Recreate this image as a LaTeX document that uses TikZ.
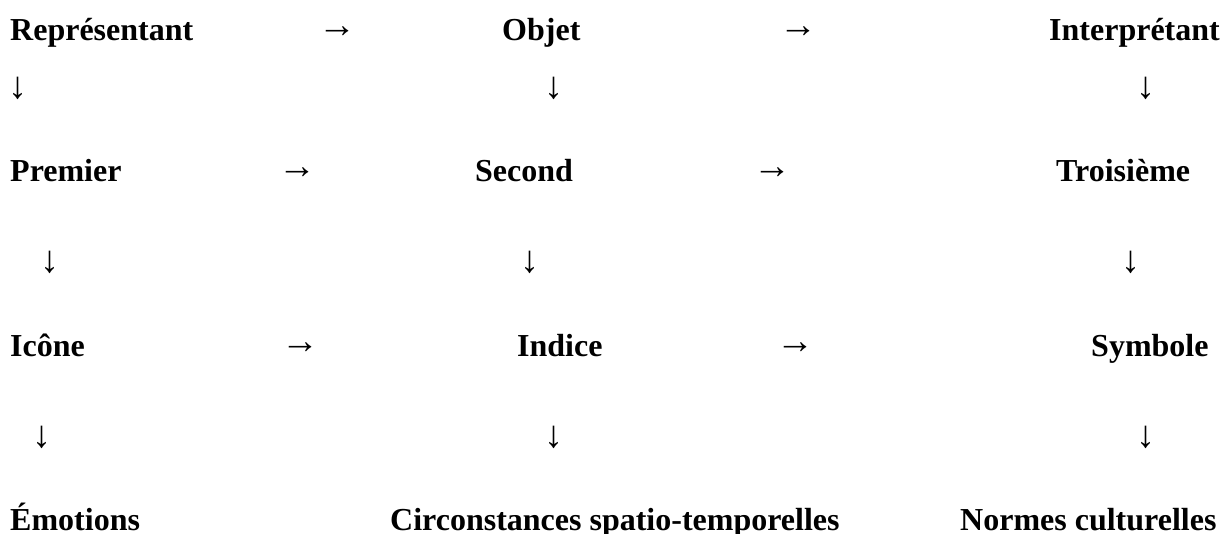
\documentclass[tikz,border=0pt]{standalone}
\usepackage{fontspec}
\setmainfont{Liberation Serif}
\begin{document}
\begin{tikzpicture}[x=1pt,y=1pt,
  lbl/.style={anchor=base west,inner sep=0pt,font=\fontsize{32}{38}\selectfont\bfseries},
  arr/.style={anchor=center,inner sep=0pt,font=\fontsize{38}{44}\selectfont}]
\useasboundingbox (0,0) rectangle (1224,534);
% row 1
\node[lbl] (rep) at (10,493) {Représentant};
\node[lbl] (obj) at (502,493) {Objet};
\node[lbl] (int) at (1049,493) {Interprétant};
\node[arr] (a1) at (337,502) {→};
\node[arr] (a2) at (798,502) {→};
\node[arr] (d1) at (18,446) {↓};
\node[arr] (d2) at (554,446) {↓};
\node[arr] (d3) at (1146,446) {↓};
% row 2
\node[lbl] (pre) at (10,352) {Premier};
\node[lbl] (sec) at (475,352) {Second};
\node[lbl] (tro) at (1056,352) {Troisième};
\node[arr] (a3) at (297,361) {→};
\node[arr] (a4) at (772,361) {→};
\node[arr] (d4) at (49.5,272) {↓};
\node[arr] (d5) at (530,272) {↓};
\node[arr] (d6) at (1131,272) {↓};
% row 3
\node[lbl] (ico) at (10,177) {Icône};
\node[lbl] (ind) at (517,177) {Indice};
\node[lbl] (sym) at (1091,177) {Symbole};
\node[arr] (a5) at (300,186) {→};
\node[arr] (a6) at (795,186) {→};
\node[arr] (d7) at (41.5,97) {↓};
\node[arr] (d8) at (554,97) {↓};
\node[arr] (d9) at (1146,97) {↓};
% row 4
\node[lbl] (emo) at (10,3) {Émotions};
\node[lbl] (cir) at (390,3) {Circonstances spatio-temporelles};
\node[lbl] (nor) at (960,3) {Normes culturelles};
\end{tikzpicture}
\end{document}
